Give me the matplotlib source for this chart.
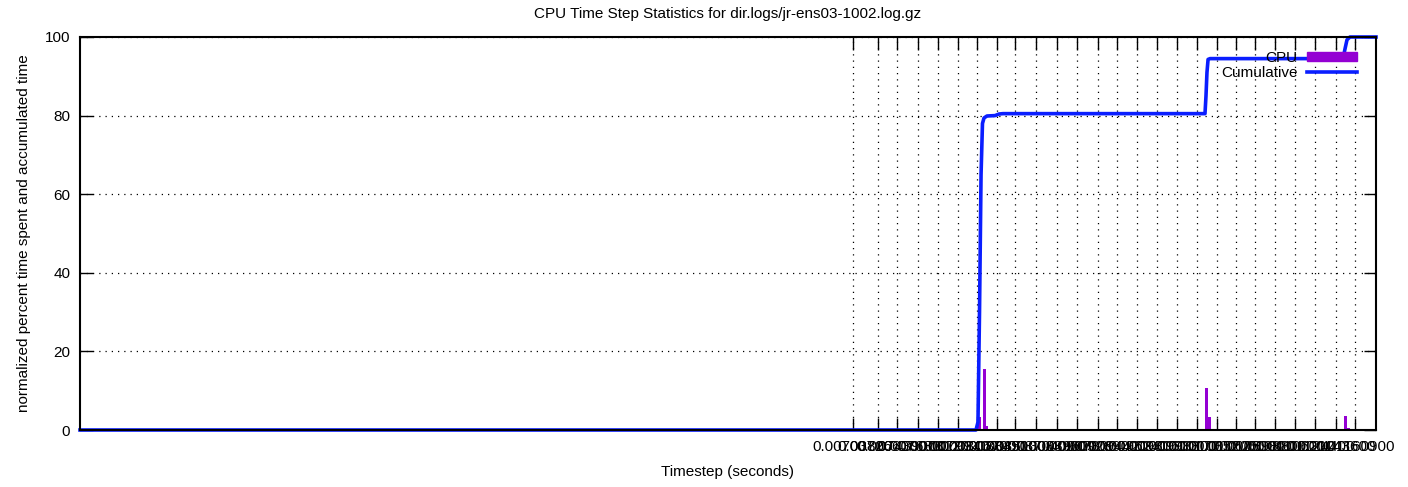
import matplotlib
matplotlib.use("Agg")
import matplotlib.pyplot as plt
from matplotlib.patches import Patch
from matplotlib.lines import Line2D

plt.rcParams['font.family'] = ['Liberation Sans', 'DejaVu Sans']

# cumulative percent of CPU time vs timestep (seconds)
cum_x = [0.0, 0.008158, 0.008176, 0.008190, 0.008204, 0.008217, 0.008231,
         0.008258, 0.008331, 0.008367, 0.008404, 0.010243, 0.010252,
         0.010261, 0.010271, 0.010289, 0.011500, 0.011518, 0.011536,
         0.011563, 0.0118]
cum_y = [0.0, 0.0, 2.0, 30.0, 65.0, 78.0, 79.4, 79.9, 80.0, 80.4, 80.5,
         80.5, 85.0, 91.0, 94.3, 94.5, 94.5, 97.0, 99.3, 100.0, 100.0]

# CPU time per timestep bin (percent)
cpu_x = [0.008186, 0.008236, 0.008258, 0.008413, 0.010261, 0.010280,
         0.011518, 0.011554]
cpu_y = [3.3, 15.5, 1.0, 0.3, 10.7, 3.3, 3.6, 0.5]
cpu_w = 0.000027

tick_vals = [0.007038, 0.007266, 0.007439, 0.007630, 0.007812, 0.007994,
             0.008167, 0.008349, 0.008513, 0.008704, 0.008896, 0.009078,
             0.009269, 0.009442, 0.009624, 0.009806, 0.009988, 0.010170,
             0.010352, 0.010525, 0.010698, 0.010880, 0.011062, 0.011244,
             0.011436, 0.011609]
tick_labels = ["0.00703800", "0.00726600", "0.00743900", "0.00763000",
               "0.00781200", "0.00799400", "0.00816700", "0.00834900",
               "0.00851300", "0.00870400", "0.00889600", "0.00907800",
               "0.00926900", "0.00944200", "0.00962400", "0.00980600",
               "0.00998800", "0.01017000", "0.01035200", "0.01052500",
               "0.01069800", "0.01088000", "0.01106200", "0.01124400",
               "0.01143600", "0.01160900"]

purple = '#9400d3'
blue = '#0a1eff'
fs = 11

fig = plt.figure(figsize=(14.08, 4.87), dpi=100)
ax = fig.add_axes([80 / 1408, 57 / 487, 1296 / 1408, 393 / 487])

ax.bar(cpu_x, cpu_y, width=cpu_w, color=purple, align='center', zorder=2)
ax.plot(cum_x, cum_y, color=blue, linewidth=2.6, zorder=3, clip_on=False)

ax.set_xlim(0, 0.0118)
ax.set_ylim(0, 100)
ax.set_xticks(tick_vals)
ax.set_xticklabels(tick_labels, fontsize=fs)
ax.set_yticks([0, 20, 40, 60, 80, 100])
ax.set_yticklabels(["0", "20", "40", "60", "80", "100"], fontsize=fs)

ax.tick_params(axis='both', direction='in', length=9, width=1,
               top=True, right=True, pad=7)
ax.grid(True, color='black', linestyle=(0, (1, 4)), linewidth=0.9, zorder=1)
ax.set_axisbelow(True)
for s in ax.spines.values():
    s.set_linewidth(1.5)
    s.set_zorder(4)

ax.set_title("CPU Time Step Statistics for dir.logs/jr-ens03-1002.log.gz",
             fontsize=fs, pad=14)
ax.set_xlabel("Timestep (seconds)", fontsize=fs, labelpad=8)
ax.set_ylabel("normalized percent time spent and accumulated time",
              fontsize=fs, labelpad=10)

handles = [Patch(facecolor=purple, edgecolor=purple),
           Line2D([0], [0], color=blue, linewidth=2.6)]
ax.legend(handles, ["CPU", "Cumulative"], loc='upper right', frameon=False,
          markerfirst=False, fontsize=fs, handlelength=3.3, handleheight=0.5,
          handletextpad=0.6, labelspacing=0.05, borderaxespad=0.4,
          bbox_to_anchor=(0.995, 0.995))

fig.savefig("out.png", dpi=100)
